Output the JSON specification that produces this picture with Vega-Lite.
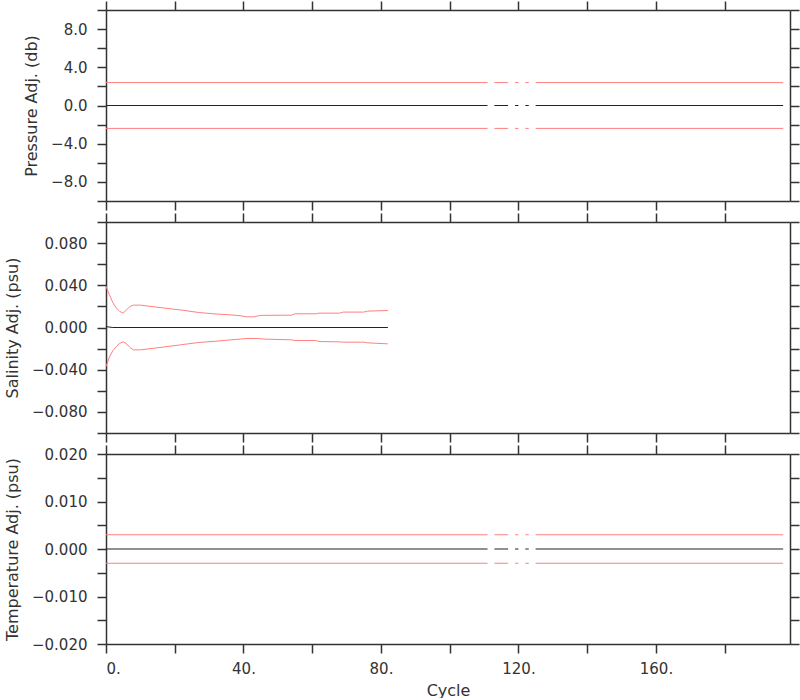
{
  "$schema": "https://vega.github.io/schema/vega-lite/v6.json",
  "padding": {"left": 4, "top": 0, "right": 0, "bottom": 0},
  "background": "white",
  "spacing": 1,
  "config": {
    "view": {"stroke": null},
    "axis": {
      "grid": false,
      "domainColor": "#333",
      "domainWidth": 1.5,
      "tickColor": "#333",
      "tickWidth": 1.5,
      "tickSize": 9,
      "labelFont": "DejaVu Sans",
      "labelFontSize": 15,
      "labelColor": "#333",
      "labelPadding": 10,
      "titleFont": "DejaVu Sans",
      "titleFontSize": 16,
      "titleFontWeight": "normal",
      "titleColor": "#333",
      "titlePadding": 11
    }
  },
  "datasets": {
    "pres": [
      {"cycle": 0, "series": "adj", "seg": 1, "value": 0},
      {"cycle": 111, "series": "adj", "seg": 1, "value": 0},
      {"cycle": 113, "series": "adj", "seg": 2, "value": 0},
      {"cycle": 117, "series": "adj", "seg": 2, "value": 0},
      {"cycle": 119, "series": "adj", "seg": 3, "value": 0},
      {"cycle": 120, "series": "adj", "seg": 3, "value": 0},
      {"cycle": 122, "series": "adj", "seg": 4, "value": 0},
      {"cycle": 123, "series": "adj", "seg": 4, "value": 0},
      {"cycle": 125, "series": "adj", "seg": 5, "value": 0},
      {"cycle": 197, "series": "adj", "seg": 5, "value": 0},
      {"cycle": 0, "series": "upper", "seg": 1, "value": 2.4},
      {"cycle": 111, "series": "upper", "seg": 1, "value": 2.4},
      {"cycle": 113, "series": "upper", "seg": 2, "value": 2.4},
      {"cycle": 117, "series": "upper", "seg": 2, "value": 2.4},
      {"cycle": 119, "series": "upper", "seg": 3, "value": 2.4},
      {"cycle": 120, "series": "upper", "seg": 3, "value": 2.4},
      {"cycle": 122, "series": "upper", "seg": 4, "value": 2.4},
      {"cycle": 123, "series": "upper", "seg": 4, "value": 2.4},
      {"cycle": 125, "series": "upper", "seg": 5, "value": 2.4},
      {"cycle": 197, "series": "upper", "seg": 5, "value": 2.4},
      {"cycle": 0, "series": "lower", "seg": 1, "value": -2.4},
      {"cycle": 111, "series": "lower", "seg": 1, "value": -2.4},
      {"cycle": 113, "series": "lower", "seg": 2, "value": -2.4},
      {"cycle": 117, "series": "lower", "seg": 2, "value": -2.4},
      {"cycle": 119, "series": "lower", "seg": 3, "value": -2.4},
      {"cycle": 120, "series": "lower", "seg": 3, "value": -2.4},
      {"cycle": 122, "series": "lower", "seg": 4, "value": -2.4},
      {"cycle": 123, "series": "lower", "seg": 4, "value": -2.4},
      {"cycle": 125, "series": "lower", "seg": 5, "value": -2.4},
      {"cycle": 197, "series": "lower", "seg": 5, "value": -2.4}
    ],
    "temp": [
      {"cycle": 0, "series": "adj", "seg": 1, "value": 0},
      {"cycle": 111, "series": "adj", "seg": 1, "value": 0},
      {"cycle": 113, "series": "adj", "seg": 2, "value": 0},
      {"cycle": 117, "series": "adj", "seg": 2, "value": 0},
      {"cycle": 119, "series": "adj", "seg": 3, "value": 0},
      {"cycle": 120, "series": "adj", "seg": 3, "value": 0},
      {"cycle": 122, "series": "adj", "seg": 4, "value": 0},
      {"cycle": 123, "series": "adj", "seg": 4, "value": 0},
      {"cycle": 125, "series": "adj", "seg": 5, "value": 0},
      {"cycle": 197, "series": "adj", "seg": 5, "value": 0},
      {"cycle": 0, "series": "upper", "seg": 1, "value": 0.003},
      {"cycle": 111, "series": "upper", "seg": 1, "value": 0.003},
      {"cycle": 113, "series": "upper", "seg": 2, "value": 0.003},
      {"cycle": 117, "series": "upper", "seg": 2, "value": 0.003},
      {"cycle": 119, "series": "upper", "seg": 3, "value": 0.003},
      {"cycle": 120, "series": "upper", "seg": 3, "value": 0.003},
      {"cycle": 122, "series": "upper", "seg": 4, "value": 0.003},
      {"cycle": 123, "series": "upper", "seg": 4, "value": 0.003},
      {"cycle": 125, "series": "upper", "seg": 5, "value": 0.003},
      {"cycle": 197, "series": "upper", "seg": 5, "value": 0.003},
      {"cycle": 0, "series": "lower", "seg": 1, "value": -0.003},
      {"cycle": 111, "series": "lower", "seg": 1, "value": -0.003},
      {"cycle": 113, "series": "lower", "seg": 2, "value": -0.003},
      {"cycle": 117, "series": "lower", "seg": 2, "value": -0.003},
      {"cycle": 119, "series": "lower", "seg": 3, "value": -0.003},
      {"cycle": 120, "series": "lower", "seg": 3, "value": -0.003},
      {"cycle": 122, "series": "lower", "seg": 4, "value": -0.003},
      {"cycle": 123, "series": "lower", "seg": 4, "value": -0.003},
      {"cycle": 125, "series": "lower", "seg": 5, "value": -0.003},
      {"cycle": 197, "series": "lower", "seg": 5, "value": -0.003}
    ],
    "sal": [
      {"cycle": 0, "series": "adj", "seg": 1, "value": 0.0008},
      {"cycle": 2, "series": "adj", "seg": 1, "value": 0},
      {"cycle": 82, "series": "adj", "seg": 1, "value": 0},
      {"cycle": 0, "series": "upper", "seg": 1, "value": 0.039},
      {"cycle": 1, "series": "upper", "seg": 1, "value": 0.031},
      {"cycle": 2, "series": "upper", "seg": 1, "value": 0.0235},
      {"cycle": 3, "series": "upper", "seg": 1, "value": 0.0185},
      {"cycle": 4, "series": "upper", "seg": 1, "value": 0.0152},
      {"cycle": 5, "series": "upper", "seg": 1, "value": 0.0137},
      {"cycle": 6, "series": "upper", "seg": 1, "value": 0.0168},
      {"cycle": 7, "series": "upper", "seg": 1, "value": 0.0200},
      {"cycle": 8, "series": "upper", "seg": 1, "value": 0.0212},
      {"cycle": 10, "series": "upper", "seg": 1, "value": 0.0212},
      {"cycle": 14, "series": "upper", "seg": 1, "value": 0.0196},
      {"cycle": 18, "series": "upper", "seg": 1, "value": 0.0180},
      {"cycle": 22, "series": "upper", "seg": 1, "value": 0.0165},
      {"cycle": 27, "series": "upper", "seg": 1, "value": 0.0142},
      {"cycle": 32, "series": "upper", "seg": 1, "value": 0.0128},
      {"cycle": 36, "series": "upper", "seg": 1, "value": 0.0120},
      {"cycle": 39, "series": "upper", "seg": 1, "value": 0.0112},
      {"cycle": 41, "series": "upper", "seg": 1, "value": 0.0101},
      {"cycle": 43, "series": "upper", "seg": 1, "value": 0.0101},
      {"cycle": 45, "series": "upper", "seg": 1, "value": 0.0115},
      {"cycle": 54, "series": "upper", "seg": 1, "value": 0.0117},
      {"cycle": 55, "series": "upper", "seg": 1, "value": 0.0130},
      {"cycle": 61, "series": "upper", "seg": 1, "value": 0.0130},
      {"cycle": 62, "series": "upper", "seg": 1, "value": 0.0136},
      {"cycle": 68, "series": "upper", "seg": 1, "value": 0.0136},
      {"cycle": 69, "series": "upper", "seg": 1, "value": 0.0146},
      {"cycle": 75, "series": "upper", "seg": 1, "value": 0.0146},
      {"cycle": 76, "series": "upper", "seg": 1, "value": 0.0155},
      {"cycle": 82, "series": "upper", "seg": 1, "value": 0.0161},
      {"cycle": 0, "series": "lower", "seg": 1, "value": -0.037},
      {"cycle": 1, "series": "lower", "seg": 1, "value": -0.028},
      {"cycle": 2, "series": "lower", "seg": 1, "value": -0.022},
      {"cycle": 3, "series": "lower", "seg": 1, "value": -0.018},
      {"cycle": 4, "series": "lower", "seg": 1, "value": -0.0150},
      {"cycle": 5, "series": "lower", "seg": 1, "value": -0.0136},
      {"cycle": 6, "series": "lower", "seg": 1, "value": -0.0155},
      {"cycle": 7, "series": "lower", "seg": 1, "value": -0.0190},
      {"cycle": 8, "series": "lower", "seg": 1, "value": -0.0212},
      {"cycle": 10, "series": "lower", "seg": 1, "value": -0.0212},
      {"cycle": 14, "series": "lower", "seg": 1, "value": -0.0196},
      {"cycle": 18, "series": "lower", "seg": 1, "value": -0.0180},
      {"cycle": 22, "series": "lower", "seg": 1, "value": -0.0163},
      {"cycle": 27, "series": "lower", "seg": 1, "value": -0.0142},
      {"cycle": 32, "series": "lower", "seg": 1, "value": -0.0130},
      {"cycle": 36, "series": "lower", "seg": 1, "value": -0.0118},
      {"cycle": 39, "series": "lower", "seg": 1, "value": -0.0110},
      {"cycle": 41, "series": "lower", "seg": 1, "value": -0.0104},
      {"cycle": 44, "series": "lower", "seg": 1, "value": -0.0104},
      {"cycle": 46, "series": "lower", "seg": 1, "value": -0.0110},
      {"cycle": 54, "series": "lower", "seg": 1, "value": -0.0117},
      {"cycle": 55, "series": "lower", "seg": 1, "value": -0.0123},
      {"cycle": 61, "series": "lower", "seg": 1, "value": -0.0123},
      {"cycle": 62, "series": "lower", "seg": 1, "value": -0.0133},
      {"cycle": 68, "series": "lower", "seg": 1, "value": -0.0136},
      {"cycle": 69, "series": "lower", "seg": 1, "value": -0.0139},
      {"cycle": 75, "series": "lower", "seg": 1, "value": -0.0139},
      {"cycle": 76, "series": "lower", "seg": 1, "value": -0.0145},
      {"cycle": 82, "series": "lower", "seg": 1, "value": -0.0155}
    ]
  },
  "vconcat": [
    {
      "width": 684,
      "height": 191,
      "data": {"name": "pres"},
      "layer": [
        {
          "transform": [{"filter": "datum.series != 'adj'"}],
          "mark": {"type": "line", "color": "#ff8080", "strokeWidth": 1},
          "encoding": {
            "x": {"field": "cycle", "type": "quantitative", "scale": {"domain": [0, 199], "nice": false, "zero": false},
                  "axis": {"orient": "top", "values": [0, 20, 40, 60, 80, 100, 120, 140, 160, 180], "labels": false, "title": null}},
            "y": {"field": "value", "type": "quantitative", "scale": {"domain": [-10, 10], "nice": false, "zero": false},
                  "axis": {"orient": "right", "values": [-10, -8, -6, -4, -2, 0, 2, 4, 6, 8, 10], "labels": false, "title": null}},
            "detail": [{"field": "series"}, {"field": "seg"}]
          }
        },
        {
          "transform": [{"filter": "datum.series == 'adj'"}],
          "mark": {"type": "line", "color": "#222", "strokeWidth": 1},
          "encoding": {
            "x": {"field": "cycle", "type": "quantitative", "scale": {"domain": [0, 199], "nice": false, "zero": false},
                  "axis": {"orient": "bottom", "values": [0, 20, 40, 60, 80, 100, 120, 140, 160, 180], "labels": false, "title": null}},
            "y": {"field": "value", "type": "quantitative", "scale": {"domain": [-10, 10], "nice": false, "zero": false},
                  "axis": {"orient": "left", "values": [-10, -8, -6, -4, -2, 0, 2, 4, 6, 8, 10], "title": "Pressure Adj. (db)",
                           "labelExpr": "round(datum.value / 2) % 2 == 0 ? format(datum.value, '.1f') : ''"}},
            "detail": {"field": "seg"}
          }
        }
      ],
      "resolve": {"axis": {"x": "independent", "y": "independent"}}
    },
    {
      "width": 684,
      "height": 211,
      "data": {"name": "sal"},
      "layer": [
        {
          "transform": [{"filter": "datum.series != 'adj'"}],
          "mark": {"type": "line", "color": "#ff8080", "strokeWidth": 1},
          "encoding": {
            "x": {"field": "cycle", "type": "quantitative", "scale": {"domain": [0, 199], "nice": false, "zero": false},
                  "axis": {"orient": "top", "values": [0, 20, 40, 60, 80, 100, 120, 140, 160, 180], "labels": false, "title": null}},
            "y": {"field": "value", "type": "quantitative", "scale": {"domain": [-0.1, 0.1], "nice": false, "zero": false},
                  "axis": {"orient": "right", "values": [-0.1, -0.08, -0.06, -0.04, -0.02, 0, 0.02, 0.04, 0.06, 0.08, 0.1], "labels": false, "title": null}},
            "detail": [{"field": "series"}, {"field": "seg"}]
          }
        },
        {
          "transform": [{"filter": "datum.series == 'adj'"}],
          "mark": {"type": "line", "color": "#222", "strokeWidth": 1},
          "encoding": {
            "x": {"field": "cycle", "type": "quantitative", "scale": {"domain": [0, 199], "nice": false, "zero": false},
                  "axis": {"orient": "bottom", "values": [0, 20, 40, 60, 80, 100, 120, 140, 160, 180], "labels": false, "title": null}},
            "y": {"field": "value", "type": "quantitative", "scale": {"domain": [-0.1, 0.1], "nice": false, "zero": false},
                  "axis": {"orient": "left", "values": [-0.1, -0.08, -0.06, -0.04, -0.02, 0, 0.02, 0.04, 0.06, 0.08, 0.1], "title": "Salinity Adj. (psu)",
                           "labelExpr": "round(datum.value / 0.02) % 2 == 0 ? format(datum.value, '.3f') : ''"}},
            "detail": {"field": "seg"}
          }
        }
      ],
      "resolve": {"axis": {"x": "independent", "y": "independent"}}
    },
    {
      "width": 684,
      "height": 190,
      "data": {"name": "temp"},
      "layer": [
        {
          "transform": [{"filter": "datum.series != 'adj'"}],
          "mark": {"type": "line", "color": "#ff8080", "strokeWidth": 1},
          "encoding": {
            "x": {"field": "cycle", "type": "quantitative", "scale": {"domain": [0, 199], "nice": false, "zero": false},
                  "axis": {"orient": "top", "values": [0, 20, 40, 60, 80, 100, 120, 140, 160, 180], "labels": false, "title": null}},
            "y": {"field": "value", "type": "quantitative", "scale": {"domain": [-0.02, 0.02], "nice": false, "zero": false},
                  "axis": {"orient": "right", "values": [-0.02, -0.015, -0.01, -0.005, 0, 0.005, 0.01, 0.015, 0.02], "labels": false, "title": null}},
            "detail": [{"field": "series"}, {"field": "seg"}]
          }
        },
        {
          "transform": [{"filter": "datum.series == 'adj'"}],
          "mark": {"type": "line", "color": "#222", "strokeWidth": 1},
          "encoding": {
            "x": {"field": "cycle", "type": "quantitative", "scale": {"domain": [0, 199], "nice": false, "zero": false},
                  "axis": {"orient": "bottom", "values": [0, 20, 40, 60, 80, 100, 120, 140, 160, 180], "title": "Cycle",
                           "labelExpr": "datum.value % 40 == 0 ? datum.value + '.' : ''", "labelPadding": 8, "titlePadding": 6}},
            "y": {"field": "value", "type": "quantitative", "scale": {"domain": [-0.02, 0.02], "nice": false, "zero": false},
                  "axis": {"orient": "left", "values": [-0.02, -0.015, -0.01, -0.005, 0, 0.005, 0.01, 0.015, 0.02], "title": "Temperature Adj. (psu)",
                           "labelExpr": "round(datum.value / 0.005) % 2 == 0 ? format(datum.value, '.3f') : ''"}},
            "detail": {"field": "seg"}
          }
        }
      ],
      "resolve": {"axis": {"x": "independent", "y": "independent"}}
    }
  ]
}
